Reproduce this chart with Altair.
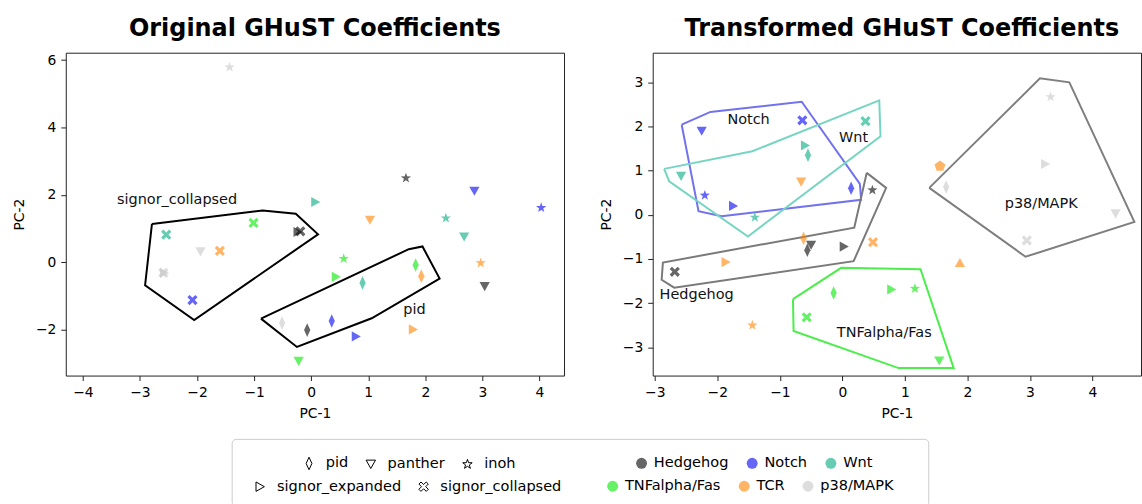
import math
import altair as alt
import pandas as pd

# ---------------- data ----------------
PATHWAYS_ROW1 = ["Hedgehog", "Notch", "Wnt"]
PATHWAYS_ROW2 = ["TNFalpha/Fas", "TCR", "p38/MAPK"]
DATABASES_ROW1 = ["pid", "panther", "inoh"]
DATABASES_ROW2 = ["signor_expanded", "signor_collapsed", "extra_1", "extra_2"]
LEGEND_DATABASES_ROW2 = ["signor_expanded", "signor_collapsed"]

orig_pathway = ["p38/MAPK", "Hedgehog", "Notch", "Notch", "Wnt", "TCR", "Wnt", "Wnt", "TNFalpha/Fas", "Hedgehog",
                "Hedgehog", "Wnt", "p38/MAPK", "TCR", "p38/MAPK", "p38/MAPK", "Notch", "TNFalpha/Fas", "TNFalpha/Fas", "Wnt",
                "TNFalpha/Fas", "TCR", "TCR", "Hedgehog", "p38/MAPK", "Hedgehog", "Notch", "Notch", "TCR", "TNFalpha/Fas"]
orig_database = ["inoh", "inoh", "panther", "inoh", "signor_expanded", "panther", "inoh", "panther", "signor_collapsed", "signor_collapsed",
                 "signor_expanded", "signor_collapsed", "panther", "signor_collapsed", "signor_collapsed", "signor_expanded", "signor_collapsed", "inoh", "signor_expanded", "pid",
                 "pid", "pid", "inoh", "panther", "pid", "pid", "pid", "signor_expanded", "signor_expanded", "panther"]
orig_pc1 = [-1.43, 1.66, 2.86, 4.03, 0.08, 1.03, 2.36, 2.68, -1.01, -0.19,
            -0.23, -2.54, -1.94, -1.60, -2.59, -2.57, -2.08, 0.57, 0.44, 0.90,
            1.83, 1.93, 2.97, 3.04, -0.51, -0.07, 0.36, 0.79, 1.79, -0.22]
orig_pc2 = [5.79, 2.50, 2.11, 1.62, 1.79, 1.25, 1.31, 0.75, 1.17, 0.92,
            0.90, 0.82, 0.31, 0.34, -0.31, -0.31, -1.12, 0.11, -0.43, -0.61,
            -0.08, -0.41, -0.02, -0.72, -1.80, -2.01, -1.74, -2.20, -1.99, -2.94]

trans_pathway = ["Notch", "Notch", "Wnt", "Wnt", "Wnt", "Wnt", "TCR", "Notch", "Hedgehog", "Notch",
                 "Notch", "Wnt", "TCR", "Hedgehog", "Hedgehog", "Hedgehog", "TCR", "Hedgehog", "TCR", "TCR",
                 "TCR", "TCR", "TNFalpha/Fas", "TNFalpha/Fas", "TNFalpha/Fas", "TNFalpha/Fas", "TNFalpha/Fas",
                 "p38/MAPK", "p38/MAPK", "p38/MAPK", "p38/MAPK", "p38/MAPK"]
trans_database = ["panther", "signor_collapsed", "signor_collapsed", "signor_expanded", "pid", "panther", "panther", "pid", "inoh", "inoh",
                  "signor_expanded", "inoh", "pid", "panther", "pid", "signor_expanded", "signor_collapsed", "signor_collapsed", "signor_expanded", "extra_1",
                  "extra_2", "inoh", "pid", "signor_expanded", "inoh", "signor_collapsed", "panther",
                  "inoh", "signor_expanded", "pid", "panther", "signor_collapsed"]
trans_pc1 = [-2.25, -0.64, 0.37, -0.59, -0.55, -2.58, -0.66, 0.14, 0.48, -2.20,
             -1.74, -1.40, -0.62, -0.50, -0.56, 0.03, 0.49, -2.68, -1.86, 1.56,
             1.88, -1.44, -0.14, 0.79, 1.16, -0.57, 1.55,
             3.33, 3.25, 1.66, 4.37, 2.95]
trans_pc2 = [1.89, 2.14, 2.12, 1.57, 1.35, 0.87, 0.74, 0.60, 0.56, 0.44,
             0.20, -0.06, -0.53, -0.69, -0.80, -0.72, -0.62, -1.29, -1.07, 1.10,
             -1.08, -2.50, -1.77, -1.69, -1.67, -2.32, -3.31,
             2.67, 1.15, 0.63, 0.02, -0.58]

# hull outlines (vertices)
orig_hulls = {
    "signor_collapsed": ([-2.79, -0.85, -0.27, 0.12, -2.05, -2.91], [1.14, 1.54, 1.44, 0.83, -1.71, -0.68]),
    "pid": ([-0.88, 1.71, 1.95, 2.25, 1.06, -0.25], [-1.67, 0.39, 0.47, -0.48, -1.66, -2.51]),
}
orig_label_text = ["signor_collapsed", "pid"]
orig_label_x = [-2.35, 1.81]
orig_label_y = [1.84, -1.40]

trans_hulls = {
    "Notch": ([-2.57, -2.11, -0.65, 0.28, 0.30, -1.93, -2.30], [2.04, 2.33, 2.56, 0.70, 0.34, -0.03, 0.08]),
    "Wnt": ([-2.85, -1.44, 0.59, 0.61, -1.51, -2.77], [1.04, 1.44, 2.59, 1.78, -0.49, 0.76]),
    "Hedgehog": ([0.39, 0.70, 0.18, -2.69, -2.89, -2.87, 0.19], [0.95, 0.61, -1.05, -1.65, -1.47, -1.08, -0.29]),
    "TNFalpha/Fas": ([-0.79, -0.02, 1.25, 1.78, 0.90, -0.78], [-1.91, -1.20, -1.23, -3.47, -3.47, -2.63]),
    "p38/MAPK": ([1.39, 3.16, 3.63, 4.67, 2.93], [0.61, 3.09, 3.00, -0.16, -0.95]),
}
trans_label_text = ["Notch", "Wnt", "Hedgehog", "TNFalpha/Fas", "p38/MAPK"]
trans_label_x = [-1.50, 0.18, -2.33, 0.67, 3.18]
trans_label_y = [2.14, 1.74, -1.81, -2.67, 0.25]

# ---------------- styles ----------------
FONT = "DejaVu Sans"
COLORS_ROW1 = ["#000000", "#0000f0", "#00ac82"]
COLORS_ROW2 = ["#00e800", "#ff8200", "#c6c6c6"]
HULL_COLORS = {"Notch": "#7272ee", "Wnt": "#76d5c2", "Hedgehog": "#7a7a7a",
               "TNFalpha/Fas": "#4cee4c", "p38/MAPK": "#7f7f7f"}


def star_path(R=0.95, r=0.38):
    pts = []
    for k in range(10):
        a = -math.pi / 2 + k * math.pi / 5
        rad = R if k % 2 == 0 else r
        pts.append((rad * math.cos(a), rad * math.sin(a)))
    return "M" + "L".join(f"{x:.3f},{y:.3f}" for x, y in pts) + "Z"


def poly_path(n, R=1.0):
    pts = []
    for k in range(n):
        a = -math.pi / 2 + k * 2 * math.pi / n
        pts.append((R * math.cos(a), R * math.sin(a)))
    return "M" + "L".join(f"{x:.3f},{y:.3f}" for x, y in pts) + "Z"


SHAPES_ROW1 = [
    "M0,-1.2L0.55,0L0,1.2L-0.55,0Z",     # pid: thin diamond
    "M-0.9,-0.8L0.9,-0.8L0,0.8Z",        # panther: triangle down
    star_path(),                         # inoh: star
]
SHAPES_ROW2 = [
    "M-0.8,-0.9L0.8,0L-0.8,0.9Z",        # signor_expanded: triangle right
    "M-0.9,-0.5L-0.5,-0.9L0,-0.4L0.5,-0.9L0.9,-0.5L0.4,0L0.9,0.5L0.5,0.9L0,0.4L-0.5,0.9L-0.9,0.5L-0.4,0Z",  # X
    poly_path(5),                        # pentagon
    "M-0.9,0.8L0.9,0.8L0,-0.8Z",         # triangle up
]
DB_GROUPS = [(DATABASES_ROW1, SHAPES_ROW1), (DATABASES_ROW2, SHAPES_ROW2)]
PW_GROUPS = [(PATHWAYS_ROW1, COLORS_ROW1), (PATHWAYS_ROW2, COLORS_ROW2)]

L_PAD = 12
T_PAD = 15
BOX_X, BOX_Y = 66, 437      # screen position of the legend panel's origin
ROW_CY = [461, 484]         # screen y of legend row centres


def common_legend(**kw):
    base = dict(title=None, orient="none", direction="horizontal", columns=0,
                labelFontSize=14.6, labelFont=FONT, labelColor="#000000", zindex=1)
    base.update(kw)
    return alt.Legend(**base)


def color_legend(row):
    x = [642 - 5.5, 613 - 5.5][row] - BOX_X
    return common_legend(legendX=x, legendY=ROW_CY[row] - 7.3 - BOX_Y, columnPadding=16,
                         symbolType="circle", symbolSize=120, symbolOpacity=0.6, labelOffset=5)


def shape_legend(row):
    x = [308 - 5.2, 259 - 5.2][row] - BOX_X
    kw = dict(legendX=x, legendY=ROW_CY[row] - 7.3 - BOX_Y, columnPadding=15,
              symbolFillColor="transparent", symbolStrokeColor="#000000", symbolStrokeWidth=1,
              symbolOpacity=1, symbolSize=110, labelOffset=9.5)
    if row == 1:
        kw["values"] = LEGEND_DATABASES_ROW2
    return common_legend(**kw)


def panel(pathway, database, pc1, pc2, hulls, hull_colors, lab_text, lab_x, lab_y,
          xdom, ydom, xticks, yticks, title, width, title_dx):
    pts = pd.DataFrame({"pathway": pathway, "database": database, "pc1": pc1, "pc2": pc2})
    xenc = alt.X("pc1:Q", scale=alt.Scale(domain=xdom, nice=False, zero=False),
                 axis=alt.Axis(values=xticks, title="PC-1", format="d"))
    yenc = alt.Y("pc2:Q", scale=alt.Scale(domain=ydom, nice=False, zero=False),
                 axis=alt.Axis(values=yticks, title="PC-2", format="d"))
    layers = []
    for name, (hx, hy) in hulls.items():
        hx2 = list(hx) + [hx[0]]
        hy2 = list(hy) + [hy[0]]
        hdf = pd.DataFrame({"pc1": hx2, "pc2": hy2, "i": list(range(len(hx2)))})
        layers.append(
            alt.Chart(hdf).mark_line(strokeWidth=2, clip=True, color=hull_colors(name)).encode(
                x=xenc, y=yenc, order="i:Q"
            )
        )
    for dbs, shapes in DB_GROUPS:
        for pws, cols in PW_GROUPS:
            sub = pts[pts["database"].isin(dbs) & pts["pathway"].isin(pws)]
            layers.append(
                alt.Chart(sub).mark_point(filled=True, opacity=0.6, size=130, clip=True).encode(
                    x=xenc, y=yenc,
                    color=alt.Color("pathway:N", scale=alt.Scale(domain=pws, range=cols), legend=None),
                    shape=alt.Shape("database:N", scale=alt.Scale(domain=dbs, range=shapes), legend=None),
                )
            )
    ldf = pd.DataFrame({"label": lab_text, "pc1": lab_x, "pc2": lab_y})
    layers.append(
        alt.Chart(ldf).mark_text(fontSize=14.5, font=FONT, color="#111111", align="center", baseline="middle").encode(
            x=xenc, y=yenc, text="label:N"
        )
    )
    return alt.layer(*layers).resolve_scale(color="independent", shape="independent").properties(
        width=width, height=324,
        title=alt.TitleParams(title, fontSize=24, font=FONT, fontWeight="bold", color="#000000",
                              anchor="middle", frame="group", offset=12, dx=title_dx),
    )


left = panel(orig_pathway, orig_database, orig_pc1, orig_pc2, orig_hulls, lambda n: "#000000",
             orig_label_text, orig_label_x, orig_label_y,
             [-4.30, 4.43], [-3.36, 6.22], [-4, -3, -2, -1, 0, 1, 2, 3, 4], [-2, 0, 2, 4, 6],
             "Original GHuST Coefficients", 500, 0)
right = panel(trans_pathway, trans_database, trans_pc1, trans_pc2, trans_hulls, lambda n: HULL_COLORS[n],
              trans_label_text, trans_label_x, trans_label_y,
              [-3.033, 4.776], [-3.64, 3.67], [-3, -2, -1, 0, 1, 2, 3, 4], [-3, -2, -1, 0, 1, 2, 3],
              "Transformed GHuST Coefficients", 490, 5)

top = alt.hconcat(left, right, spacing=34).resolve_scale(x="independent", y="independent")

# legend panel: a framed box whose legends are driven by the same colour / shape scales
legend_src = pd.DataFrame({"pathway": orig_pathway, "database": orig_database})
box_frame = alt.Chart(pd.DataFrame({"k": [0]})).mark_rect(
    filled=False, stroke="#cccccc", strokeWidth=1, cornerRadius=4
).encode(
    x=alt.value(233 - BOX_X), x2=alt.value(932 - BOX_X), y=alt.value(0), y2=alt.value(67)
)
legend_layers = []
for row in (0, 1):
    dbs, shapes = DB_GROUPS[row]
    pws, cols = PW_GROUPS[row]
    legend_layers.append(
        alt.Chart(legend_src).mark_point(filled=True, opacity=0, size=1).encode(
            x=alt.value(0), y=alt.value(0),
            color=alt.Color("pathway:N", scale=alt.Scale(domain=pws, range=cols), legend=color_legend(row)),
            shape=alt.Shape("database:N", scale=alt.Scale(domain=dbs, range=shapes), legend=shape_legend(row)),
        )
    )
box = alt.layer(box_frame, *legend_layers).resolve_scale(
    color="independent", shape="independent"
).properties(width=932 - BOX_X, height=67, view=alt.ViewBackground(stroke="transparent"))

chart = alt.vconcat(top, box, spacing=16).properties(
    padding={"left": L_PAD, "top": T_PAD, "right": 0, "bottom": 0}
).configure(font=FONT).configure_view(
    stroke="#222222", strokeWidth=1
).configure_axis(
    domain=False, grid=False, tickSize=5, tickColor="#222222", tickWidth=1,
    labelFontSize=13.9, labelFont=FONT, labelColor="#000000", labelPadding=5,
    titleFontSize=13.9, titleFont=FONT, titleColor="#000000", titleFontWeight="normal", titlePadding=7,
).configure_axisY(titlePadding=9)

chart.save("out.html", embed_options={"renderer": "svg", "actions": False})
